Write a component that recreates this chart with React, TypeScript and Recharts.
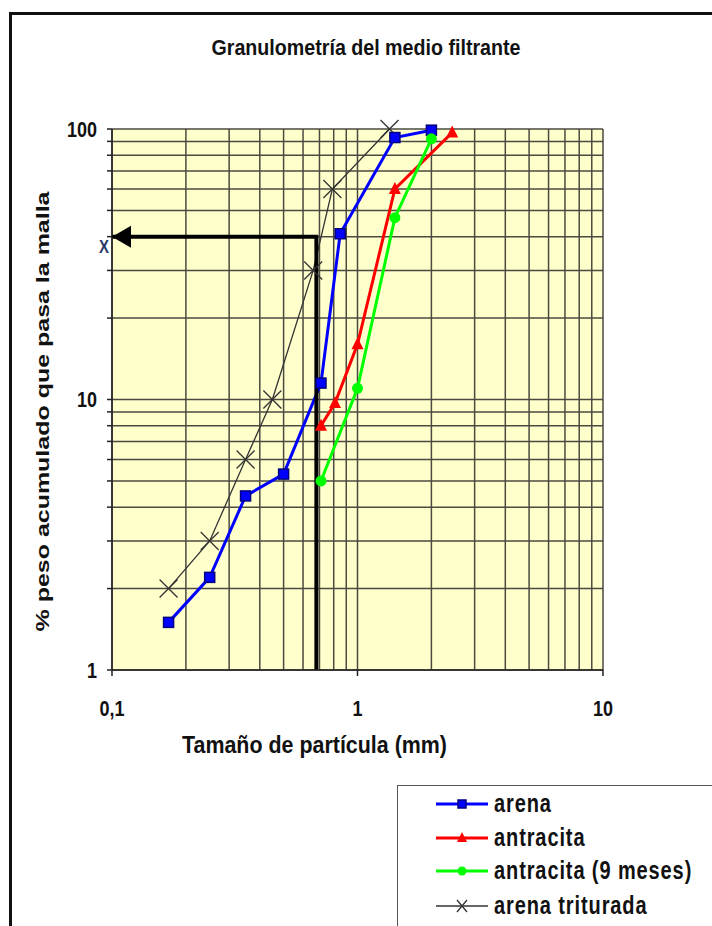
import React from "react";
import { LineChart, Line, XAxis, YAxis, CartesianGrid, Legend, Label } from "recharts";

// tick labels (log axes)
const xTicks = [0.1, 1, 10];
const xTickLabels = ["0,1", "1", "10"];
const yTicks = [1, 2, 3, 4, 5, 6, 7, 8, 9, 10, 20, 30, 40, 50, 60, 70, 80, 90, 100];
const yLabelTicks = [1, 10, 100];
const yTickLabels = ["1", "10", "100"];
const xGrid = [0.1, 0.2, 0.3, 0.4, 0.5, 0.6, 0.7, 0.8, 0.9, 1, 2, 3, 4, 5, 6, 7, 8, 9, 10];

// series: tamaño (mm) vs % que pasa
const arena = [
  { x: 0.17, y: 1.5 },
  { x: 0.25, y: 2.2 },
  { x: 0.35, y: 4.4 },
  { x: 0.5, y: 5.3 },
  { x: 0.71, y: 11.5 },
  { x: 0.85, y: 41 },
  { x: 1.42, y: 93 },
  { x: 2.0, y: 99 },
];
const antracita = [
  { x: 0.71, y: 8 },
  { x: 0.81, y: 9.7 },
  { x: 1.0, y: 16 },
  { x: 1.42, y: 60 },
  { x: 2.43, y: 97 },
];
const antracita9 = [
  { x: 0.71, y: 5 },
  { x: 1.0, y: 11 },
  { x: 1.42, y: 47 },
  { x: 2.0, y: 92 },
];
const arenaTriturada = [
  { x: 0.17, y: 2 },
  { x: 0.25, y: 3 },
  { x: 0.35, y: 6 },
  { x: 0.45, y: 10 },
  { x: 0.66, y: 30 },
  { x: 0.79, y: 60 },
  { x: 1.35, y: 100 },
];
// flecha de lectura (d40)
const guia = [
  { x: 0.68, y: 1 },
  { x: 0.68, y: 40 },
  { x: 0.1, y: 40 },
];

const seriesNames = ["arena", "antracita", "antracita (9 meses)", "arena triturada"];
const seriesColors = ["#0000ff", "#ff0000", "#00ff00", "#333333"];

const FONT = "'Liberation Sans', Arial, Helvetica, sans-serif";
const SY = 1.25;

function SText(props: any) {
  const { x, y, size, anchor = "middle", length, rotate = 0, sy = SY, spacing, fill = "#111", children } = props;
  return (
    <text
      transform={`translate(${x} ${y}) rotate(${rotate}) scale(1 ${sy})`}
      x={0}
      y={0}
      fontFamily={FONT}
      fontWeight="bold"
      fontSize={size}
      fill={fill}
      letterSpacing={spacing}
      textAnchor={anchor}
      dominantBaseline="central"
      textLength={length}
      lengthAdjust={length ? "spacingAndGlyphs" : undefined}
    >
      {children}
    </text>
  );
}

const squareDot = (p: any) => (
  <rect key={`sq${p.index}`} x={p.cx - 5} y={p.cy - 5} width={10} height={10} fill="#0000ff" stroke="#000080" strokeWidth={1.5} />
);
const triangleDot = (p: any) => (
  <polygon key={`tr${p.index}`} points={`${p.cx},${p.cy - 7} ${p.cx + 6},${p.cy + 5} ${p.cx - 6},${p.cy + 5}`} fill="#ff0000" />
);
const circleDot = (p: any) => <circle key={`ci${p.index}`} cx={p.cx} cy={p.cy} r={5.5} fill="#00ff00" />;
const crossDot = (p: any) => (
  <path
    key={`cr${p.index}`}
    d={`M${p.cx - 9},${p.cy - 9}L${p.cx + 9},${p.cy + 9}M${p.cx + 9},${p.cy - 9}L${p.cx - 9},${p.cy + 9}`}
    stroke="#333"
    strokeWidth={1.3}
    fill="none"
  />
);
const arrowDot = (p: any) =>
  p.index === guia.length - 1 ? (
    <polygon key={`ar${p.index}`} points={`${p.cx},${p.cy} ${p.cx + 19},${p.cy - 11} ${p.cx + 19},${p.cy + 11}`} fill="#000" />
  ) : (
    <g key={`ar${p.index}`} />
  );

const legendMarks = [
  (cx: number, cy: number) => <rect x={cx - 4} y={cy - 4} width={8} height={8} fill="#0000ff" stroke="#000080" strokeWidth={1.5} />,
  (cx: number, cy: number) => <polygon points={`${cx},${cy - 6} ${cx + 5},${cy + 4} ${cx - 5},${cy + 4}`} fill="#ff0000" />,
  (cx: number, cy: number) => <circle cx={cx} cy={cy} r={4.5} fill="#00ff00" />,
  (cx: number, cy: number) => (
    <path d={`M${cx - 5},${cy - 6}L${cx + 5},${cy + 6}M${cx + 5},${cy - 6}L${cx - 5},${cy + 6}`} stroke="#333" strokeWidth={1.3} />
  ),
];

function LegendBox() {
  const rows = [18, 52, 85, 120];
  return (
    <svg width={340} height={160} style={{ display: "block", border: "1.5px solid #555", background: "#fff" }}>
      {seriesNames.map((n, i) => (
        <g key={n}>
          <line x1={38} x2={90} y1={rows[i]} y2={rows[i]} stroke={seriesColors[i]} strokeWidth={i === 3 ? 1.3 : 3} />
          {legendMarks[i](64, rows[i])}
          <SText x={96} y={rows[i]} size={20} anchor="start" spacing={0.9}>
            {n}
          </SText>
        </g>
      ))}
    </svg>
  );
}

const xTick = (p: any) => {
  const i = xTicks.indexOf(p.payload.value);
  return (
    <SText x={p.x} y={p.y} size={18}>
      {i >= 0 ? xTickLabels[i] : ""}
    </SText>
  );
};
const yTick = (p: any) => {
  const i = yLabelTicks.indexOf(p.payload.value);
  return i >= 0 ? (
    <SText x={p.x} y={p.y} size={18} anchor="end">
      {yTickLabels[i]}
    </SText>
  ) : (
    <g />
  );
};

export default function App() {
  return (
    <div style={{ position: "absolute", left: 0, top: 0, width: 712, height: 926, overflow: "hidden", background: "#fff" }}>
      <div style={{ position: "absolute", left: 9, top: 12, width: 800, height: 1000, border: "3px solid #111" }} />
      <svg width={712} height={926} style={{ position: "absolute", left: 0, top: 0 }}>
        <SText x={366} y={48} size={17} length={309}>
          Granulometría del medio filtrante
        </SText>
      </svg>
      <div style={{ position: "absolute", left: 0, top: 0 }}>
        <LineChart width={712} height={926} margin={{ top: 129, right: 109, bottom: 226, left: 52 }}>
          <CartesianGrid
            horizontalValues={yTicks}
            verticalValues={xGrid}
            stroke="#4a4a40"
            strokeWidth={1.5}
            fill="#ffffcc"
            fillOpacity={1}
          />
          <XAxis
            type="number"
            dataKey="x"
            scale="log"
            domain={[0.1, 10]}
            ticks={xTicks}
            interval={0}
            height={30}
            tickSize={6}
            tickMargin={32}
            tick={xTick}
            stroke="#222"
            strokeWidth={1.5}
          >
            <Label
              content={(lp: any) => {
                const vb = lp.viewBox;
                return (
                  <SText x={vb.x + vb.width / 2 - 43} y={745} size={19} length={265}>
                    Tamaño de partícula (mm)
                  </SText>
                );
              }}
            />
          </XAxis>
          <YAxis
            type="number"
            dataKey="y"
            scale="log"
            domain={[1, 100]}
            ticks={yTicks}
            interval={0}
            width={60}
            tickSize={5}
            tickMargin={10}
            tick={yTick}
            stroke="#222"
            strokeWidth={1.5}
          >
            <Label
              content={(lp: any) => {
                const vb = lp.viewBox;
                return (
                  <SText x={vb.x - 10} y={vb.y + vb.height / 2 + 12} size={19} rotate={-90} sy={1} length={440}>
                    % peso acumulado que pasa la malla
                  </SText>
                );
              }}
            />
          </YAxis>
          <Legend
            layout="vertical"
            align="center"
            verticalAlign="middle"
            content={() => <LegendBox />}
            wrapperStyle={{ left: 397, top: 785, width: 340, height: 160 }}
          />
          <Line data={arenaTriturada} dataKey="y" name={seriesNames[3]} stroke="#333" strokeWidth={1.3} dot={crossDot} activeDot={false} isAnimationActive={false} />
          <Line data={arena} dataKey="y" name={seriesNames[0]} stroke="#0000ff" strokeWidth={3} dot={squareDot} activeDot={false} isAnimationActive={false} />
          <Line data={antracita} dataKey="y" name={seriesNames[1]} stroke="#ff0000" strokeWidth={3} dot={triangleDot} activeDot={false} isAnimationActive={false} />
          <Line data={antracita9} dataKey="y" name={seriesNames[2]} stroke="#00ff00" strokeWidth={3} dot={circleDot} activeDot={false} isAnimationActive={false} />
          <Line data={guia} dataKey="y" stroke="#000" strokeWidth={4} dot={arrowDot} activeDot={false} legendType="none" isAnimationActive={false} />
        </LineChart>
      </div>
      <svg width={712} height={926} style={{ position: "absolute", left: 0, top: 0, pointerEvents: "none" }}>
        <SText x={104} y={247} size={15} fill="#2a3a66">
          X
        </SText>
      </svg>
    </div>
  );
}
